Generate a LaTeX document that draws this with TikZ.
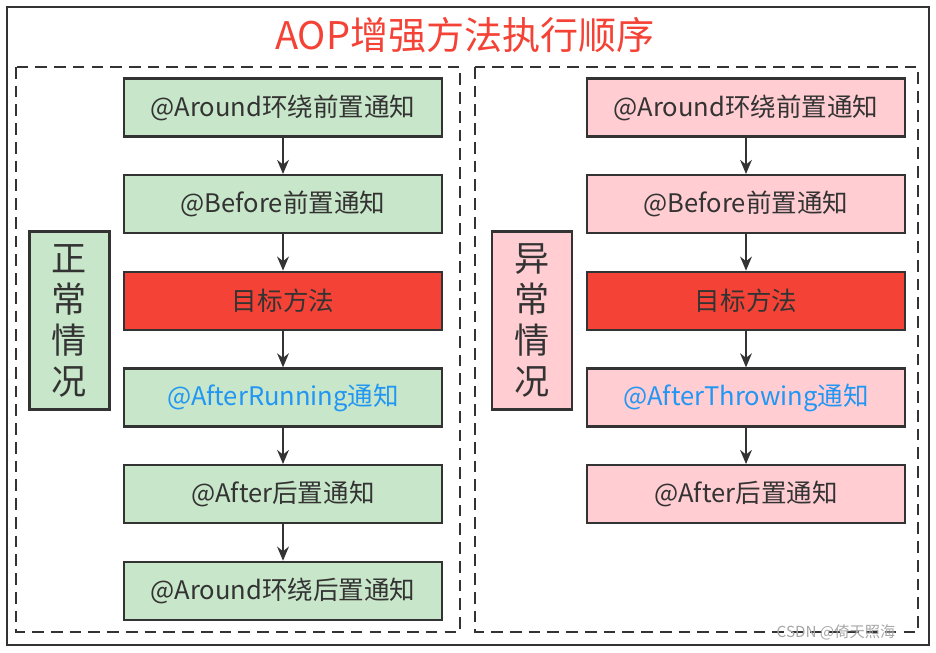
\documentclass[tikz,border=0pt]{standalone}
\usepackage{fontspec}
\setmainfont{Noto Sans CJK SC}
\usetikzlibrary{arrows.meta,positioning}
\definecolor{cGreen}{RGB}{200,230,201}
\definecolor{cPink}{RGB}{255,205,210}
\definecolor{cRed}{RGB}{244,67,54}
\definecolor{cBlue}{RGB}{33,150,243}
\definecolor{cDark}{RGB}{51,51,51}
\definecolor{cTitle}{RGB}{244,67,54}
\tikzset{
  basebox/.style={rectangle,draw=cDark,line width=2pt,text=cDark,inner sep=0pt,
                  font=\fontsize{21.8}{26}\selectfont,minimum width=9.54cm,minimum height=1.74cm},
  greennode/.style={basebox,fill=cGreen},
  pinknode/.style={basebox,fill=cPink},
  rednode/.style={basebox,fill=cRed},
  sidenode/.style={rectangle,draw=cDark,line width=2pt,text=cDark,inner sep=0pt,align=center,
                   font=\fontsize{30}{35}\selectfont,minimum width=2.4cm,minimum height=5.34cm},
  groupbox/.style={draw=cDark,line width=1.8pt,dash pattern=on 10pt off 6pt},
  framebox/.style={draw=cDark,line width=1.9pt},
  arr/.style={-{Stealth[length=12pt,width=10pt]},line width=1.8pt,color=cDark}
}

\begin{document}
\begin{tikzpicture}[x=0.03cm,y=-0.03cm,node distance=1.09cm]
  \useasboundingbox (0,0) rectangle (936,652);

  % Frame and title
  \draw[framebox] (7,7) rectangle (929,645);
  \node[text=cTitle,font=\fontsize{32.5}{38}\selectfont] (title) at (465,35) {AOP增强方法执行顺序};

  % Groups
  \draw[groupbox] (16,67) rectangle (460,632);
  \draw[groupbox] (475,67) rectangle (918,632);

  % Normal case
  \node[sidenode,fill=cGreen] (normal) at (69.5,320.5) {正\\常\\情\\况};
  \node[greennode] (n_around) at (283,107.5) {@Around环绕前置通知};
  \node[greennode,below=of n_around] (n_before) {@Before前置通知};
  \node[rednode,below=of n_before] (n_target) {目标方法};
  \node[greennode,below=of n_target,text=cBlue] (n_running) {@AfterRunning通知};
  \node[greennode,below=of n_running] (n_after) {@After后置通知};
  \node[greennode,below=of n_after] (n_aroundend) {@Around环绕后置通知};

  % Exception case
  \node[sidenode,fill=cPink] (except) at (532,320.5) {异\\常\\情\\况};
  \node[pinknode] (e_around) at (746,107.5) {@Around环绕前置通知};
  \node[pinknode,below=of e_around] (e_before) {@Before前置通知};
  \node[rednode,below=of e_before] (e_target) {目标方法};
  \node[pinknode,below=of e_target,text=cBlue] (e_throwing) {@AfterThrowing通知};
  \node[pinknode,below=of e_throwing] (e_after) {@After后置通知};

  \draw[arr] (n_around) -- (n_before);
  \draw[arr] (n_before) -- (n_target);
  \draw[arr] (n_target) -- (n_running);
  \draw[arr] (n_running) -- (n_after);
  \draw[arr] (n_after) -- (n_aroundend);

  \draw[arr] (e_around) -- (e_before);
  \draw[arr] (e_before) -- (e_target);
  \draw[arr] (e_target) -- (e_throwing);
  \draw[arr] (e_throwing) -- (e_after);

  \node[text=gray!70,font=\fontsize{13}{15}\selectfont] (mark) at (836,632) {CSDN @倚天照海};

\end{tikzpicture}
\end{document}
